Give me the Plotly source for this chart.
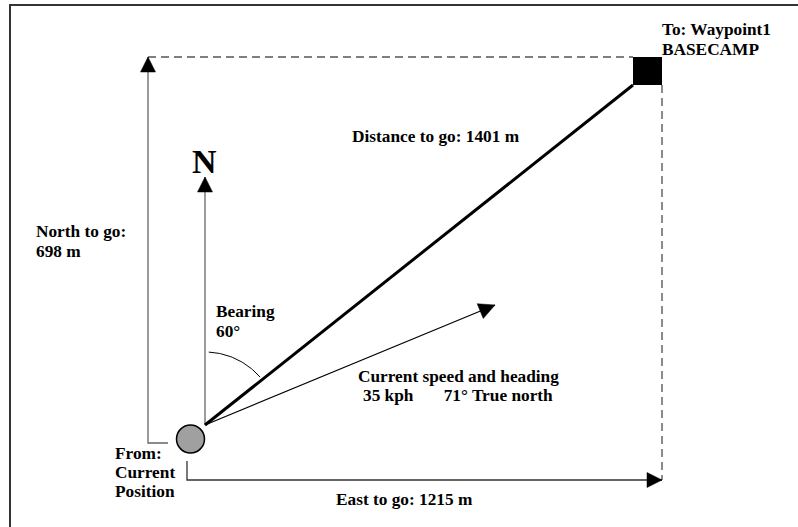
import plotly.graph_objects as go
import numpy as np

# navigation readout
EAST_TO_GO = 1215      # m
NORTH_TO_GO = 698      # m
DISTANCE_TO_GO = 1401  # m
BEARING = 60           # deg
HEADING = 71           # deg, true north
SPEED = 35             # kph
WAYPOINT = ["Waypoint1", "BASECAMP"]
FROM = ["From:", "Current", "Position"]

W, H = 798, 527
FONT = "Liberation Serif, Times New Roman, serif"

# page placement of the current position and of the waypoint corner
ORIGIN_PX = (205, 425)
WAYPOINT_PX = (633, 85)
KX = (WAYPOINT_PX[0] - ORIGIN_PX[0]) / EAST_TO_GO   # px per metre east
KY = (ORIGIN_PX[1] - WAYPOINT_PX[1]) / NORTH_TO_GO  # px per metre north


def mx(px):
    return (px - ORIGIN_PX[0]) / KX


def my(py):
    return (ORIGIN_PX[1] - py) / KY


BOX_W = 29 / KX
BOX_H = 28 / KY
top = NORTH_TO_GO + BOX_H
right = EAST_TO_GO + BOX_W

fig = go.Figure()


def line(xs, ys, color="#666666", width=1.3, dash=None):
    fig.add_scatter(x=xs, y=ys, mode="lines", hoverinfo="skip",
                    line=dict(color=color, width=width, dash=dash))


def head(x0, y0, x1, y1, size=15):
    fig.add_scatter(x=[x0, x1], y=[y0, y1], mode="markers", hoverinfo="skip",
                    marker=dict(symbol="arrow-up", size=size, color="black",
                                opacity=[0, 1], angleref="previous",
                                line=dict(width=0.5, color="black")))


# dashed box edges
line([mx(148), EAST_TO_GO], [top, top], color="black", width=1.2, dash="8px,5px")
line([right, right], [NORTH_TO_GO, my(480)], color="#666666", width=1.5, dash="8px,5px")

# north to go
line([mx(168), mx(148), mx(148)], [my(443), my(443), top])
head(mx(148), my(443), mx(148), top)

# N arrow
line([0, 0], [0, my(177)])
head(0, 0, 0, my(177))

# east to go
line([mx(187), mx(187), right], [my(461), my(480), my(480)], color="#333333")
head(mx(187), my(480), right, my(480))

# distance to go
line([0, EAST_TO_GO], [0, NORTH_TO_GO], color="black", width=3)

# current heading
line([0, mx(495)], [0, my(305)], color="black", width=1.2)
head(0, 0, mx(495), my(305), size=16)

# bearing arc
a = np.radians(np.linspace(3, 49, 40))
line(73 * np.sin(a) / KX, 73 * np.cos(a) / KY, color="black", width=1)

# current position
fig.add_scatter(x=[mx(190.5)], y=[my(439)], mode="markers", hoverinfo="skip",
                marker=dict(size=28, color="#a0a0a0", line=dict(color="black", width=1.5)))

# waypoint box
fig.add_shape(type="rect", x0=EAST_TO_GO, x1=right, y0=NORTH_TO_GO, y1=top,
              fillcolor="black", line=dict(width=0))

# frame
fig.add_shape(type="rect", xref="paper", yref="paper", x0=10 / W, x1=1.05,
              y0=-0.05, y1=1 - 5 / H, line=dict(color="#333333", width=2))


def label(px, py, text, size=17.3, anchor="left"):
    fig.add_annotation(x=mx(px), y=my(py), text="<b>%s</b>" % text, showarrow=False,
                       xanchor=anchor, yanchor="middle", borderpad=0,
                       font=dict(family=FONT, size=size, color="black"))


sp = "\u00a0"
label(35, 231, "North to go:")
label(35, 251, "%d m" % NORTH_TO_GO)
label(351, 136, "Distance to go: %d m" % DISTANCE_TO_GO)
label(661, 29, "To: " + WAYPOINT[0])
label(661, 49.5, WAYPOINT[1])
label(215, 311.5, "Bearing")
label(215, 331, "%d°" % BEARING)
label(458, 376, "Current speed and heading", anchor="center")
label(458, 395, "%d kph%s%d° True north" % (SPEED, sp * 7, HEADING), anchor="center")
label(114, 453.5, FROM[0])
label(114, 472.5, FROM[1])
label(114, 491.5, FROM[2])
label(335, 499, "East to go: %d m" % EAST_TO_GO)
label(204, 161.5, "N", size=34, anchor="center")

fig.update_xaxes(range=[mx(0), mx(W)], visible=False, fixedrange=True)
fig.update_yaxes(range=[my(H), my(0)], visible=False, fixedrange=True)
fig.update_layout(width=W, height=H, margin=dict(l=0, r=0, t=0, b=0),
                  showlegend=False, paper_bgcolor="white", plot_bgcolor="white")

fig.write_html("out.html", config={"displayModeBar": False},
               post_script="document.body.style.margin='0';")
